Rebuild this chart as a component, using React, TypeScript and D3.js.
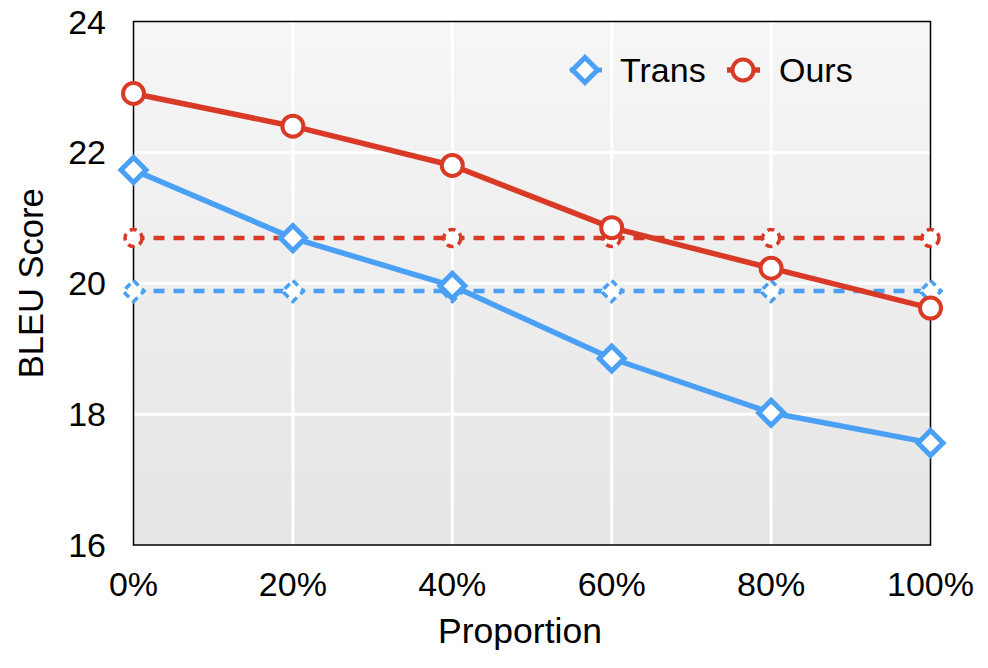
import React from "react";
import * as d3 from "d3";

const categories = ["0%", "20%", "40%", "60%", "80%", "100%"];
const transValues = [21.73, 20.69, 19.96, 18.85, 18.02, 17.56];
const oursValues = [22.9, 22.4, 21.8, 20.85, 20.23, 19.62];
const transBaseline = [19.88, 19.88, 19.88, 19.88, 19.88, 19.88];
const oursBaseline = [20.69, 20.69, 20.69, 20.69, 20.69, 20.69];
const yTicks = [16, 18, 20, 22, 24];

const W = 988, H = 668;
const L = 133.5, R = 930.5, T = 21.5, B = 545;
const BLUE = "#4aa0f5";
const RED = "#d83a25";
const FONT = "'Liberation Sans', Arial, Helvetica, sans-serif";

export default function App() {
  const x = d3.scalePoint<string>().domain(categories).range([L, R]);
  const y = d3.scaleLinear().domain([16, 24]).range([B, T]);
  const line = d3.line<number>().x((_, i) => x(categories[i])!).y((d) => y(d));
  const diamond = (cx: number, cy: number, r: number) =>
    `M${cx},${cy - r}L${cx + r},${cy}L${cx},${cy + r}L${cx - r},${cy}Z`;

  return (
    <svg width={W} height={H} style={{ position: "absolute", left: 0, top: 0 }}>
      <defs>
        <linearGradient id="bg" x1="0" y1="0" x2="0" y2="1">
          <stop offset="0" stopColor="#f6f6f6" />
          <stop offset="1" stopColor="#e5e5e5" />
        </linearGradient>
      </defs>
      <rect x={0} y={0} width={W} height={H} fill="#fff" />
      <rect x={L} y={T} width={R - L} height={B - T} fill="url(#bg)" />
      {categories.slice(1, -1).map((c) => (
        <line key={c} x1={x(c)} x2={x(c)} y1={T} y2={B} stroke="#fff" strokeWidth={3} />
      ))}
      {yTicks.slice(1, -1).map((t) => (
        <line key={t} x1={L} x2={R} y1={y(t)} y2={y(t)} stroke="#fff" strokeWidth={3} />
      ))}
      <rect x={L} y={T} width={R - L} height={B - T} fill="none" stroke="#000" strokeWidth={1.5} />

      {/* baselines dashed */}
      <path d={line(oursBaseline)!} fill="none" stroke={RED} strokeWidth={4.5} strokeDasharray="11,9" />
      <path d={line(transBaseline)!} fill="none" stroke={BLUE} strokeWidth={4.5} strokeDasharray="11,9" />
      {oursBaseline.map((v, i) => (
        <circle key={"ob" + i} cx={x(categories[i])} cy={y(v)} r={8.5} fill="#fff" stroke={RED} strokeWidth={3.5} strokeDasharray="7,5" />
      ))}
      {transBaseline.map((v, i) => (
        <path key={"tb" + i} d={diamond(x(categories[i])!, y(v), 10.5)} fill="#fff" stroke={BLUE} strokeWidth={3.5} strokeDasharray="7,5" />
      ))}

      {/* main lines */}
      <path d={line(transValues)!} fill="none" stroke={BLUE} strokeWidth={5.5} strokeLinejoin="round" />
      <path d={line(oursValues)!} fill="none" stroke={RED} strokeWidth={5.5} strokeLinejoin="round" />
      {transValues.map((v, i) => (
        <path key={"t" + i} d={diamond(x(categories[i])!, y(v), 12.5)} fill="#fff" stroke={BLUE} strokeWidth={5} />
      ))}
      {oursValues.map((v, i) => (
        <circle key={"o" + i} cx={x(categories[i])} cy={y(v)} r={10.5} fill="#fff" stroke={RED} strokeWidth={4} />
      ))}

      {/* axes labels */}
      {categories.map((c) => (
        <text key={c} x={x(c)} y={596} textAnchor="middle" fontFamily={FONT} fontSize={34} fill="#000">{c}</text>
      ))}
      {yTicks.map((t) => (
        <text key={t} x={106} y={y(t) + 12} textAnchor="end" fontFamily={FONT} fontSize={34} fill="#000">{t}</text>
      ))}
      <text x={520} y={643} textAnchor="middle" fontFamily={FONT} fontSize={35.5} fill="#000">Proportion</text>
      <text transform={`translate(43,${(T + B) / 2}) rotate(-90)`} textAnchor="middle" fontFamily={FONT} fontSize={34.5} fill="#000">BLEU Score</text>

      {/* legend */}
      <line x1={570} x2={602} y1={70} y2={70} stroke={BLUE} strokeWidth={5} />
      <path d={diamond(585, 70, 12.5)} fill="#fff" stroke={BLUE} strokeWidth={5} />
      <text x={620} y={82} fontFamily={FONT} fontSize={34} fill="#000">Trans</text>
      <line x1={727} x2={760} y1={70} y2={70} stroke={RED} strokeWidth={5.5} />
      <circle cx={743} cy={70} r={10.5} fill="#fff" stroke={RED} strokeWidth={4} />
      <text x={779} y={82} fontFamily={FONT} fontSize={34} fill="#000">Ours</text>
    </svg>
  );
}
